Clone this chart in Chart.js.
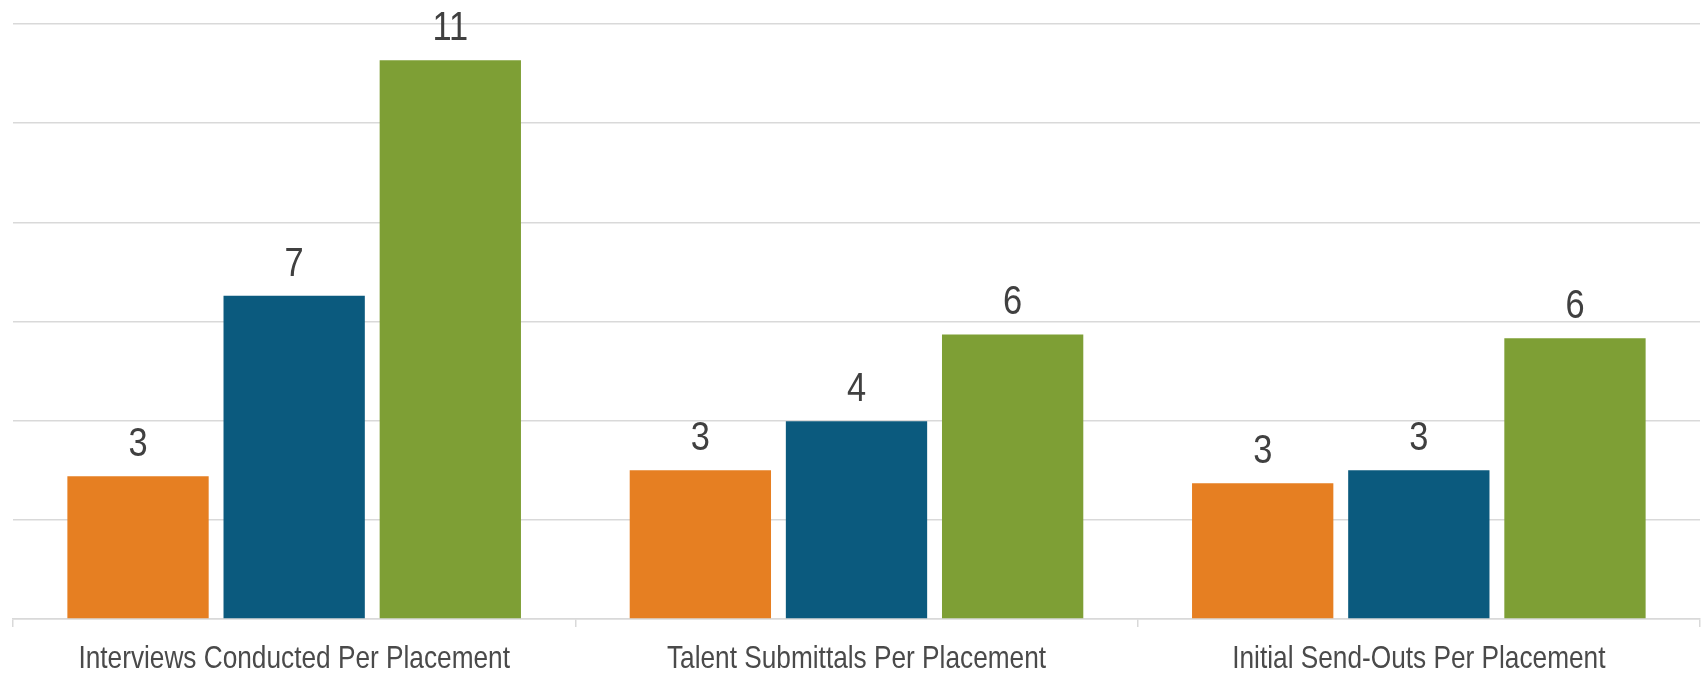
<!DOCTYPE html>
<html>
<head>
<meta charset="utf-8">
<title>Placement Ratios</title>
<script src="https://cdn.jsdelivr.net/npm/chart.js@4.4.1/dist/chart.umd.min.js"></script>
<style>
  html, body { margin: 0; padding: 0; background: #ffffff; }
  #wrap { width: 1706px; height: 674px; }
</style>
</head>
<body>
<div id="wrap"><canvas id="ratios" width="1706" height="674"></canvas></div>
<script>
  'use strict';

  var categories = [
    'Interviews Conducted Per Placement',
    'Talent Submittals Per Placement',
    'Initial Send-Outs Per Placement'
  ];

  // three series, one bar per category each
  var orangeValues = [2.88, 3.00, 2.74];
  var blueValues = [6.52, 3.99, 3.00];
  var greenValues = [11.27, 5.74, 5.66];

  var yTicks = [0, 2, 4, 6, 8, 10, 12];

  var colors = {
    orange: '#e67f22',
    blue: '#0b5a7e',
    green: '#7e9f35',
    grid: '#d9d9d9',
    text: '#404040',
    axisText: '#4a4a4a'
  };

  var fontFamily = '"Liberation Sans", Arial, sans-serif';
  var squeeze = 0.86; // narrow look for all labels

  function narrowText(ctx, text, x, y) {
    ctx.save();
    ctx.translate(x, y);
    ctx.scale(squeeze, 1);
    ctx.fillText(text, 0, 0);
    ctx.restore();
  }

  // rounded value above each bar, category names under the axis
  var chartLabels = {
    id: 'chartLabels',
    afterDatasetsDraw: function (chart) {
      var ctx = chart.ctx;
      var xScale = chart.scales.x;
      ctx.save();
      ctx.textAlign = 'center';

      ctx.font = '40px ' + fontFamily;
      ctx.fillStyle = colors.text;
      ctx.textBaseline = 'alphabetic';
      chart.data.datasets.forEach(function (ds, i) {
        var meta = chart.getDatasetMeta(i);
        meta.data.forEach(function (bar, j) {
          narrowText(ctx, String(Math.round(ds.data[j])), bar.x, bar.y - 20);
        });
      });

      ctx.font = '30.5px ' + fontFamily;
      ctx.fillStyle = colors.axisText;
      ctx.textBaseline = 'middle';
      chart.data.labels.forEach(function (label, i) {
        narrowText(ctx, label, xScale.getPixelForValue(i), chart.chartArea.bottom + 41);
      });
      ctx.restore();
    }
  };

  function series(values, color) {
    return {
      data: values,
      backgroundColor: color,
      borderWidth: 0,
      categoryPercentage: 0.833,
      barPercentage: 0.905
    };
  }

  var ctx = document.getElementById('ratios').getContext('2d');
  window.ratiosChart = new Chart(ctx, {
    type: 'bar',
    data: {
      labels: categories,
      datasets: [
        series(orangeValues, colors.orange),
        series(blueValues, colors.blue),
        series(greenValues, colors.green)
      ]
    },
    options: {
      responsive: false,
      animation: false,
      layout: {
        padding: { left: 13, right: 6, top: 24, bottom: 47 }
      },
      plugins: {
        legend: { display: false },
        tooltip: { enabled: false }
      },
      scales: {
        x: {
          grid: {
            offset: true,
            drawOnChartArea: false,
            drawTicks: true,
            tickLength: 8,
            color: colors.grid,
            lineWidth: 1.5
          },
          border: { color: colors.grid, width: 1.5 },
          ticks: { display: false }
        },
        y: {
          min: yTicks[0],
          max: yTicks[yTicks.length - 1],
          afterBuildTicks: function (axis) {
            axis.ticks = yTicks.map(function (v) { return { value: v }; });
          },
          grid: { color: colors.grid, lineWidth: 1.5, drawTicks: false },
          border: { display: false },
          ticks: { display: false }
        }
      }
    },
    plugins: [chartLabels]
  });
</script>
</body>
</html>
